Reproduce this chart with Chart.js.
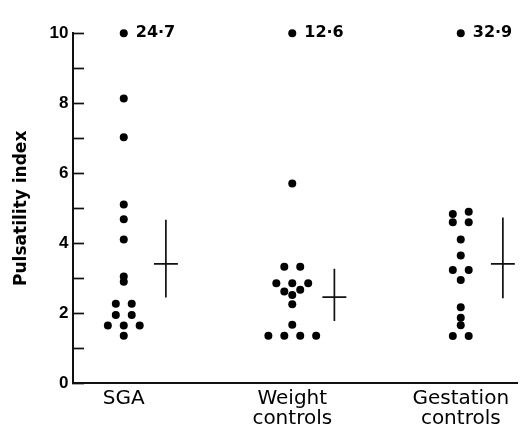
<!DOCTYPE html>
<html>
<head>
<meta charset="utf-8">
<script src="https://cdn.jsdelivr.net/npm/chart.js@4.4.1/dist/chart.umd.min.js"></script>
<style>
html,body{margin:0;padding:0;background:#fff;}
canvas{display:block;}
</style>
</head>
<body>
<canvas id="c" width="521" height="430"></canvas>
<script>
// ---- data ----
const categories = ['SGA', 'Weight controls', 'Gestation controls'];
// Pulsatility index of each infant (values above the axis top are shown at the top with their value)
const sgaValues = [24.7, 8.14, 7.03, 5.11, 4.69, 4.11, 3.05, 2.9, 2.27, 2.27, 1.95, 1.95, 1.65, 1.65, 1.65, 1.36];
const weightValues = [12.6, 5.71, 3.33, 3.33, 2.86, 2.86, 2.86, 2.67, 2.62, 2.52, 2.26, 1.67, 1.36, 1.36, 1.36, 1.36];
const gestationValues = [32.9, 4.9, 4.84, 4.6, 4.6, 4.11, 3.65, 3.24, 3.24, 2.95, 2.17, 1.87, 1.66, 1.35, 1.35];
// mean and the ends of the vertical bar of each group's cross
const means = [3.41, 2.46, 3.41];
const barUpper = [4.67, 3.27, 4.74];
const barLower = [2.45, 1.78, 2.43];
const yTickLabels = [0, 2, 4, 6, 8, 10];

// ---- layout / style constants ----
const Y_MAX = 10;
const ROW_TOL = 0.08;     // values closer than this share a row
const SPREAD = 0.0945;    // horizontal spacing of dots in a row (category units)
const CROSS_OFFSET = 0.25;
const CROSS_HALF = 0.071;
const INK = '#111';

const groups = [sgaValues, weightValues, gestationValues];

function swarm(values, center) {
  const order = values.map((v, i) => i).sort((a, b) => values[a] - values[b]);
  const rows = [];
  let cur = [], last = null;
  order.forEach(i => {
    const v = Math.min(values[i], Y_MAX);
    if (cur.length && v - last > ROW_TOL) { rows.push(cur); cur = []; }
    cur.push(i); last = v;
  });
  if (cur.length) rows.push(cur);
  const pts = new Array(values.length);
  rows.forEach(row => {
    const n = row.length;
    row.forEach((i, k) => {
      pts[i] = { x: center + (k - (n - 1) / 2) * SPREAD, y: Math.min(values[i], Y_MAX), raw: values[i] };
    });
  });
  return pts;
}

const dotDatasets = groups.map((vals, gi) => ({
  label: categories[gi],
  data: swarm(vals, gi),
  pointRadius: 4,
  pointHoverRadius: 4,
  pointBorderWidth: 0,
  pointBackgroundColor: '#000',
  backgroundColor: '#000',
  showLine: false,
  clip: false
}));

const crossData = [];
means.forEach((m, i) => {
  const c = i + CROSS_OFFSET;
  crossData.push({ x: c - CROSS_HALF, y: m }, { x: c + CROSS_HALF, y: m }, { x: c, y: null });
  crossData.push({ x: c, y: barUpper[i] }, { x: c, y: barLower[i] }, { x: c, y: null });
});

const crossDataset = {
  label: 'mean',
  data: crossData,
  showLine: true,
  spanGaps: false,
  pointRadius: 0,
  borderColor: INK,
  borderWidth: 1.7,
  clip: false
};

const offScaleLabels = {
  id: 'offScaleLabels',
  afterDatasetsDraw(chart) {
    const ctx = chart.ctx;
    ctx.save();
    ctx.font = 'bold 16px "DejaVu Sans", sans-serif';
    ctx.fillStyle = '#000';
    ctx.textAlign = 'left';
    ctx.textBaseline = 'alphabetic';
    dotDatasets.forEach((ds, di) => {
      const meta = chart.getDatasetMeta(di);
      ds.data.forEach((p, i) => {
        if (p.raw > Y_MAX) {
          const el = meta.data[i];
          ctx.fillText(String(p.raw).replace('.', '\u00B7'), el.x + 12, el.y + 4);
        }
      });
    });
    ctx.restore();
  }
};

new Chart(document.getElementById('c'), {
  type: 'scatter',
  data: { datasets: [...dotDatasets, crossDataset] },
  options: {
    responsive: false,
    devicePixelRatio: 1,
    animation: false,
    events: [],
    layout: { padding: { top: 33.3, right: 2, bottom: 0, left: 0 } },
    plugins: { legend: { display: false }, tooltip: { enabled: false } },
    scales: {
      x: {
        type: 'linear',
        min: -0.3013,
        max: 2.3338,
        afterBuildTicks: s => { s.ticks = categories.map((c, i) => ({ value: i })); },
        afterFit: s => { s.height = 46.7; },
        grid: { display: true, drawOnChartArea: false, drawTicks: false },
        border: { display: true, color: INK, width: 2 },
        ticks: {
          padding: 6,
          color: '#000',
          font: { family: '"DejaVu Sans", sans-serif', size: 20, lineHeight: 0.98 },
          maxRotation: 0,
          autoSkip: false,
          callback: v => {
            const lab = categories[Math.round(v)];
            return lab.indexOf(' ') >= 0 ? lab.split(' ') : lab;
          }
        }
      },
      y: {
        type: 'linear',
        min: 0,
        max: Y_MAX,
        afterBuildTicks: s => {
          const t = [];
          for (let v = 0; v <= Y_MAX; v++) t.push({ value: v });
          s.ticks = t;
        },
        afterFit: s => { s.width = 73; },
        grid: { display: true, drawOnChartArea: false, drawTicks: true, tickLength: -11, tickWidth: 1.7, tickColor: INK },
        border: { display: true, color: INK, width: 2 },
        ticks: {
          padding: 15.5,
          color: '#000',
          font: { family: '"Liberation Sans", Arial, sans-serif', size: 17, weight: 'bold' },
          callback: v => (yTickLabels.indexOf(v) >= 0 ? String(v) : '')
        },
        title: {
          display: true,
          text: 'Pulsatility index',
          color: '#000',
          font: { family: '"DejaVu Sans", sans-serif', size: 17, weight: 'bold', lineHeight: 1.2 },
          padding: { top: 11.4, bottom: 0 }
        }
      }
    }
  },
  plugins: [offScaleLabels]
});
</script>
</body>
</html>
